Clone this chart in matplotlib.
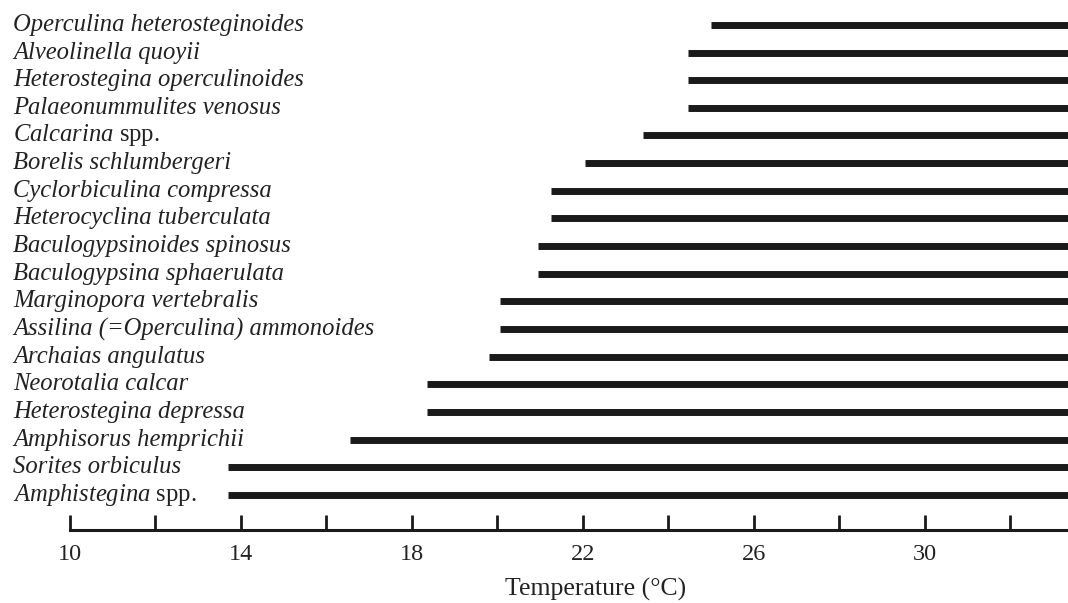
import matplotlib
matplotlib.use("Agg")
import matplotlib.pyplot as plt
import matplotlib.transforms as mtransforms

# ── data (top to bottom) ─────────────────────────────────────────────────────
species = [
    r"Operculina heterosteginoides",
    r"Alveolinella quoyii",
    r"Heterostegina operculinoides",
    r"Palaeonummulites venosus",
    r"$\mathit{Calcarina}$ spp.",
    r"Borelis schlumbergeri",
    r"Cyclorbiculina compressa",
    r"Heterocyclina tuberculata",
    r"Baculogypsinoides spinosus",
    r"Baculogypsina sphaerulata",
    r"Marginopora vertebralis",
    r"Assilina (=Operculina) ammonoides",
    r"Archaias angulatus",
    r"Neorotalia calcar",
    r"Heterostegina depressa",
    r"Amphisorus hemprichii",
    r"Sorites orbiculus",
    r"$\mathit{Amphistegina}$ spp.",
]
t_min = [25.0, 24.45, 24.45, 24.45, 23.4, 22.05, 21.25, 21.25, 20.95, 20.95,
         20.05, 20.05, 19.8, 18.35, 18.35, 16.55, 13.7, 13.7]
t_max = 35.0

major_ticks = [10, 14, 18, 22, 26, 30]
minor_ticks = [12, 16, 20, 24, 28, 32]

# ── style ────────────────────────────────────────────────────────────────────
plt.rcParams["font.family"] = "Liberation Serif"
plt.rcParams["mathtext.fontset"] = "custom"
plt.rcParams["mathtext.rm"] = "Liberation Serif"
plt.rcParams["mathtext.it"] = "Liberation Serif:italic"

fig = plt.figure(figsize=(10.68, 6.03), dpi=100)
W, H = 1068, 603
ax = fig.add_axes([70 / W, 1 - 530 / H, 1 - 70 / W, 530 / H])

n = len(species)
ys = [n - 1 - i for i in range(n)]

ax.hlines(ys, t_min, t_max, colors="#1a1a1a", linewidth=5, capstyle="butt")

ax.set_xlim(10, 33.35)
ax.set_ylim(-1.27, n - 1 + 0.9)

for s in ["left", "right", "top"]:
    ax.spines[s].set_visible(False)
ax.spines["bottom"].set_linewidth(2.2)
ax.spines["bottom"].set_color("#1a1a1a")

ax.set_yticks([])
ax.set_xticks(major_ticks)
ax.set_xticks(minor_ticks, minor=True)
ax.tick_params(axis="x", which="both", direction="in", length=11, width=2,
               color="#1a1a1a", pad=10, labelsize=17.5, labelcolor="#222222")

# species labels, left aligned near the figure edge
trans = mtransforms.blended_transform_factory(fig.transFigure, ax.transData)
for name, y in zip(species, ys):
    style = "normal" if "spp." in name else "italic"
    ax.text(13 / W, y, name, transform=trans, ha="left", va="center",
            fontsize=17.7, fontstyle=style, color="#222222", clip_on=False)

fig.text(596 / W, 1 - 589 / H, "Temperature (°C)", ha="center", va="center",
         fontsize=18.5, color="#222222")

fig.savefig("out.png", dpi=100)
